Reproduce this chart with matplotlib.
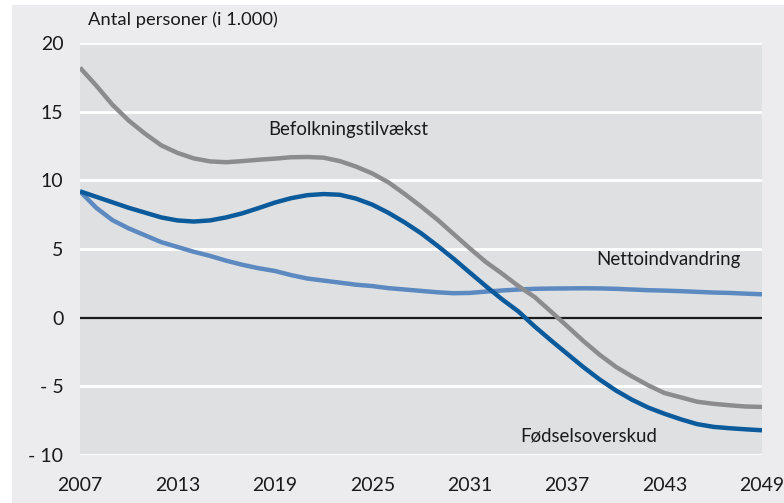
import matplotlib.pyplot as plt
from matplotlib.patches import Rectangle

years = list(range(2007, 2050))

befolkningstilvaekst = [18.2, 16.9, 15.5, 14.35, 13.4, 12.55, 12.0, 11.6, 11.38, 11.32,
                        11.4, 11.5, 11.58, 11.68, 11.7, 11.65, 11.4, 11.0, 10.5, 9.85,
                        9.0, 8.1, 7.15, 6.1, 5.05, 4.05, 3.2, 2.3, 1.5, 0.45,
                        -0.62, -1.7, -2.7, -3.58, -4.28, -4.93, -5.49, -5.8, -6.12, -6.27,
                        -6.38, -6.47, -6.5]

foedselsoverskud = [9.2, 8.8, 8.4, 8.0, 7.65, 7.3, 7.08, 7.0, 7.08, 7.3,
                    7.6, 7.98, 8.38, 8.7, 8.92, 9.0, 8.95, 8.67, 8.23, 7.63,
                    6.93, 6.15, 5.25, 4.3, 3.29, 2.29, 1.33, 0.45, -0.64, -1.65,
                    -2.63, -3.6, -4.5, -5.3, -5.98, -6.55, -7.0, -7.4, -7.75, -7.95,
                    -8.05, -8.13, -8.2]

nettoindvandring = [9.2, 8.0, 7.1, 6.5, 6.0, 5.5, 5.15, 4.8, 4.5, 4.15,
                    3.85, 3.6, 3.4, 3.1, 2.85, 2.7, 2.55, 2.4, 2.3, 2.15,
                    2.05, 1.95, 1.85, 1.78, 1.8, 1.9, 1.98, 2.05, 2.1, 2.12,
                    2.13, 2.14, 2.13, 2.1, 2.05, 2.0, 1.97, 1.93, 1.88, 1.83,
                    1.8, 1.75, 1.7]

x_ticks = [2007, 2013, 2019, 2025, 2031, 2037, 2043, 2049]
y_ticks = [-10, -5, 0, 5, 10, 15, 20]
y_labels = ['- 10', '- 5', '0', '5', '10', '15', '20']

plt.rcParams['font.family'] = ['Lato', 'DejaVu Sans']

fig = plt.figure(figsize=(7.84, 5.03), dpi=100)
fig.patch.set_facecolor('white')
fig.patches.append(Rectangle((12 / 784, 0), 1, 1 - 5 / 503, transform=fig.transFigure,
                             facecolor='#ECECEE', edgecolor='none', zorder=-10))

ax = fig.add_axes([80 / 784, 48 / 503, 682 / 784, 412 / 503])
ax.set_facecolor('#DFE0E2')

for y in y_ticks:
    if y != 0:
        ax.axhline(y, color='white', lw=2, zorder=1)
ax.axhline(0, color='#1a1a1a', lw=1.6, zorder=2)

ax.plot(years, nettoindvandring, color='#5B89C0', lw=3.2, zorder=3, solid_capstyle='butt')
ax.plot(years, befolkningstilvaekst, color='#8C8C8E', lw=3.2, zorder=4, solid_capstyle='butt')
ax.plot(years, foedselsoverskud, color='#0A5A9C', lw=3.2, zorder=5, solid_capstyle='butt')

ax.set_xlim(2007, 2049)
ax.set_ylim(-10, 20)
ax.set_xticks(x_ticks)
ax.set_yticks(y_ticks)
ax.set_yticklabels(y_labels)
ax.tick_params(length=0, labelsize=14, colors='#1a1a1a')
ax.tick_params(axis='y', pad=12)
ax.tick_params(axis='x', pad=16)
for s in ax.spines.values():
    s.set_visible(False)

ax.text(2018.6, 13.7, 'Befolkningstilvækst', fontsize=13.4, color='#1a1a1a', va='center')
ax.text(2038.8, 4.2, 'Nettoindvandring', fontsize=13.4, color='#1a1a1a', va='center')
ax.text(2034.1, -8.6, 'Fødselsoverskud', fontsize=13.4, color='#1a1a1a', va='center')
fig.text(88 / 784, 1 - 20 / 503, 'Antal personer (i 1.000)', fontsize=13.2,
         color='#1a1a1a', va='center')

fig.savefig('out.png', dpi=100, facecolor=fig.get_facecolor())
